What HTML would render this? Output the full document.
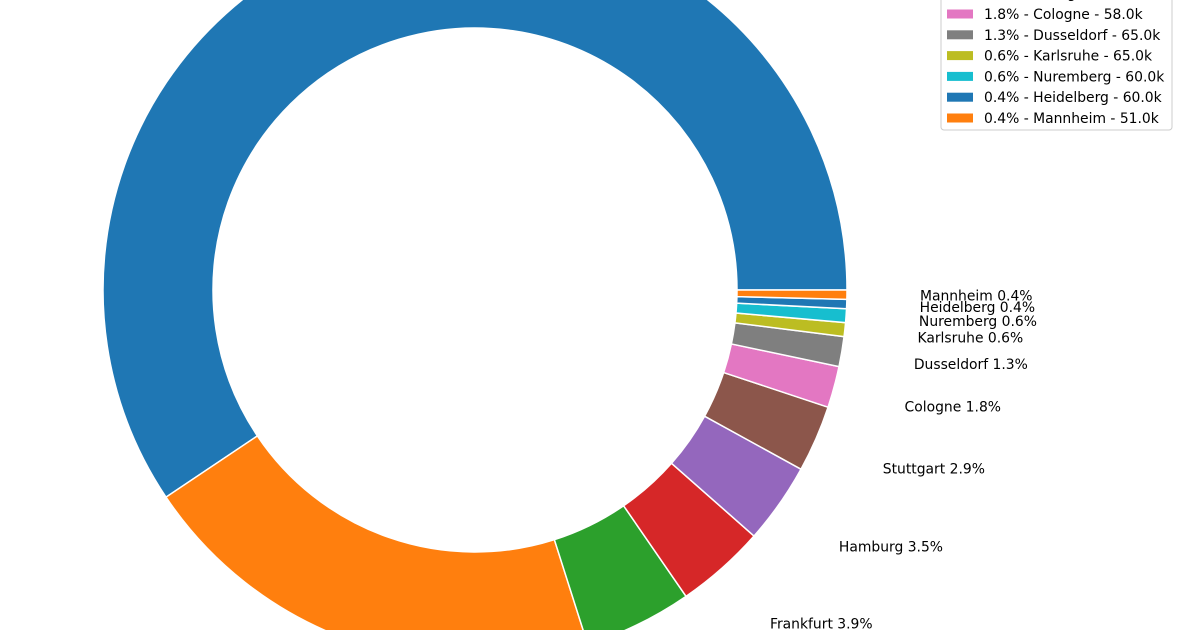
<!DOCTYPE html>
<html><head><meta charset="utf-8"><style>
html,body{margin:0;padding:0;background:#fff;overflow:hidden;width:1181px;height:630px;}
svg{display:block;font-family:"DejaVu Sans","Liberation Sans",sans-serif;}
</style></head><body>
<svg id="chart" width="1181" height="630" viewBox="0 0 1181 630"></svg>
<script>
const cities = ["Berlin","Munich","Remote","Frankfurt","Hamburg","Stuttgart","Cologne","Dusseldorf","Karlsruhe","Nuremberg","Heidelberg","Mannheim"];
const shares = [59.4,20.5,4.7,3.9,3.5,2.9,1.8,1.3,0.6,0.6,0.4,0.4];
const salaries = ["60.0k","70.0k","65.0k","62.0k","60.0k","65.0k","58.0k","65.0k","65.0k","60.0k","60.0k","51.0k"];
const palette = ["#1f77b4","#ff7f0e","#2ca02c","#d62728","#9467bd","#8c564b","#e377c2","#7f7f7f","#bcbd22","#17becf"];
const NS="http://www.w3.org/2000/svg";
const svg=document.getElementById('chart');
const cx=475, cy=290, R=372, r=262, LR=446;
const total=shares.reduce((a,b)=>a+b,0);
function pt(rad,ang){return [cx+rad*Math.cos(ang), cy-rad*Math.sin(ang)];}
let start=0;
const g=document.createElementNS(NS,'g');


svg.appendChild(g);
shares.forEach((v,i)=>{
  const sweep=v/total*2*Math.PI;
  const a0=start, a1=start+sweep;
  const [x0,y0]=pt(R,a0),[x1,y1]=pt(R,a1),[x2,y2]=pt(r,a1),[x3,y3]=pt(r,a0);
  const large=sweep>Math.PI?1:0;
  const p=document.createElementNS(NS,'path');
  p.setAttribute('d',`M${x0},${y0} A${R},${R} 0 ${large} 0 ${x1},${y1} L${x2},${y2} A${r},${r} 0 ${large} 1 ${x3},${y3} Z`);
  p.setAttribute('fill',palette[i%10]);
  p.setAttribute('stroke','#fff');
  p.setAttribute('stroke-width','1.5');
  
  
  g.appendChild(p);
  const mid=(a0+a1)/2;
  const [lx,ly]=pt(LR,mid);
  const t=document.createElementNS(NS,'text');
  t.setAttribute('x',lx-1);t.setAttribute('y',ly+5);
  t.setAttribute('text-anchor',Math.cos(mid)>=0?'start':'end');t.setAttribute('font-size','13.9');
  t.textContent=cities[i]+' '+v.toFixed(1)+'%';
  
  
  svg.appendChild(t);
  start=a1;
});
const lg=document.createElementNS(NS,'g');


svg.appendChild(lg);
const n=cities.length, rowH=20.8, lastY=118;
const topY=lastY-(n-1)*rowH;
const box=document.createElementNS(NS,'rect');
box.setAttribute('x',941);box.setAttribute('y',topY-16);box.setAttribute('width',231);
box.setAttribute('height',(lastY+12)-(topY-16));box.setAttribute('rx',3);
box.setAttribute('fill','#fff');box.setAttribute('stroke','#ccc');
lg.appendChild(box);
cities.forEach((c,i)=>{
  const y=topY+i*rowH;
  const sw=document.createElementNS(NS,'rect');
  sw.setAttribute('x',947);sw.setAttribute('y',y-4.5);sw.setAttribute('width',26);sw.setAttribute('height',9);
  sw.setAttribute('fill',palette[i%10]);
  
  
  lg.appendChild(sw);
  const t=document.createElementNS(NS,'text');
  t.setAttribute('x',984);t.setAttribute('y',y+5);t.setAttribute('font-size','13.9');
  t.textContent=shares[i].toFixed(1)+'% - '+c+' - '+salaries[i];
  
  
  lg.appendChild(t);
});
</script>
</body></html>
